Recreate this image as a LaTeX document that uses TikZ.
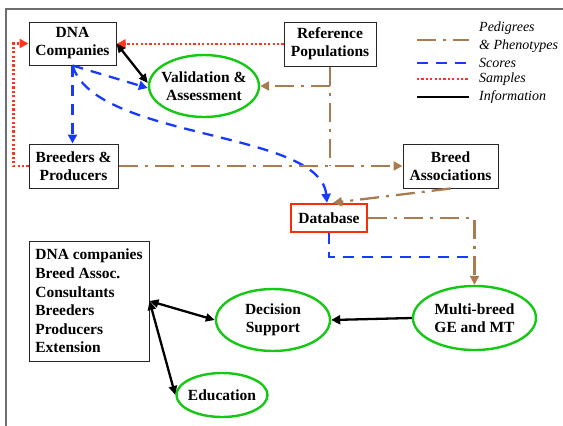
\documentclass[tikz,border=0pt]{standalone}
\usepackage{fontspec}
\setmainfont{Liberation Serif}
\usetikzlibrary{arrows.meta,shapes.geometric}

\definecolor{pedbrown}{RGB}{168,124,78}
\definecolor{scoreblue}{RGB}{24,58,255}
\definecolor{samplered}{RGB}{255,52,30}
\definecolor{ovalgreen}{RGB}{20,200,20}
\definecolor{dbred}{RGB}{250,45,10}
\definecolor{framegray}{RGB}{110,110,110}

\tikzset{
  every node/.style={font=\fontsize{15.5}{18}\selectfont\bfseries},
  box/.style={draw=black!85, line width=1pt, inner sep=0pt, align=center},
  dbbox/.style={draw=dbred, line width=2.4pt, inner sep=0pt, align=center},
  oval/.style={ellipse, draw=ovalgreen, line width=2.4pt, inner sep=0pt},
  ovaltext/.style={label={[align=center, inner sep=0pt]center:#1}},
  tip/.style={-{Triangle[length=9pt,width=9pt]}},
  twotip/.style={{Triangle[length=9pt,width=8pt]}-{Triangle[length=9pt,width=8pt]}},
  ped/.style={draw=pedbrown, fill=none, line width=2.3pt, dash pattern=on 19pt off 7pt on 3pt off 7pt},
  score/.style={draw=scoreblue, line width=2.3pt, dash pattern=on 11pt off 8pt},
  samp/.style={draw=samplered, line width=2.3pt, dash pattern=on 2.2pt off 2.2pt},
  info/.style={draw=black, line width=2.3pt},
  legtxt/.style={font=\fontsize{14}{18}\selectfont\itshape, anchor=west, inner sep=0pt, align=left},
}

\begin{document}
\begin{tikzpicture}[x=1pt, y=-1pt]
  \useasboundingbox (0,0) rectangle (563,426);

  % outer frame
  \draw[framegray, line width=1.2pt] (563,9) -- (6,9) -- (6,426);

  % boxes
  \node[box, minimum width=87, minimum height=43] (dna) at (72.5,43.5) {DNA\\Companies};
  \node[box, minimum width=89, minimum height=44] (breed) at (73.5,166) {Breeders \&\\Producers};
  \node[box, minimum width=92, minimum height=44] (refpop) at (330,44) {Reference\\Populations};
  \node[box, minimum width=95, minimum height=44] (ba) at (450.5,166) {Breed\\Associations};
  \node[dbbox, minimum width=76, minimum height=28] (db) at (329,218) {Database};
  \node[box, minimum width=120, minimum height=120, align=left,
        font=\fontsize{15.5}{18.6}\selectfont\bfseries] (list) at (89,301)
        {DNA companies\\Breed Assoc.\\Consultants\\Breeders\\Producers\\Extension};

  % ovals
  \node[oval, minimum width=110, minimum height=62, ovaltext={Validation \&\\Assessment}] (val) at (204,86) {};
  \node[oval, minimum width=123, minimum height=64, ovaltext={Multi-breed\\GE and MT}] (multi) at (474.5,318) {};
  \node[oval, minimum width=114, minimum height=62, ovaltext={Decision\\Support}] (dec) at (273,320) {};
  \node[oval, minimum width=91, minimum height=44, ovaltext={Education}] (edu) at (222,395) {};

  % samples
  \draw[samp, tip] (refpop.west) -- (refpop.west -| dna.east);
  \draw[samp, tip] (breed.west) -- ++(-15,0) |- (dna.west);

  % scores
  \draw[score, tip] (dna.south) -- (dna.south |- breed.north);
  \draw[score, tip] (dna.south) -- ([yshift=-2pt]val.west);
  \draw[score, tip] (dna.south) .. controls (95,140) and (320,130) .. ([xshift=-2pt]db.north);
  \coordinate (scorejoin) at (474.5,257);
  \draw[score] (db.south) |- (scorejoin);

  % pedigrees & phenotypes
  \coordinate (refjoin) at (refpop.south |- breed.east);
  \draw[ped] (refpop.south) -- (refjoin);
  \draw[ped, tip] (refpop.south |- val.east) -- (val.east);
  \draw[ped, tip] (breed.east) -- (ba.west);
  \draw[ped, tip] (ba.south) -- ([xshift=4pt]db.north);
  \draw[ped, tip] (db.east) -| (multi.north);

  % information
  \draw[info, twotip] (dna.east) -- ([yshift=3pt]val.west);
  \draw[info, tip] (multi.west) -- (dec.east);
  \draw[info, twotip] (list.east) -- (dec.west);
  \draw[info, twotip] (list.east) -- (edu.west);

  % legend
  \draw[ped] (417,40) -- (469,40);
  \draw[score] (417,63) -- (469,63);
  \draw[samp] (417,79) -- (469,79);
  \draw[info] (417,97) -- (469,97);
  \node[legtxt] (legped) at (479,37) {Pedigrees\\\& Phenotypes};
  \node[legtxt] (legscore) at (479,63) {Scores};
  \node[legtxt] (legsamp) at (479,79) {Samples};
  \node[legtxt] (leginfo) at (479,97) {Information};
\end{tikzpicture}
\end{document}
